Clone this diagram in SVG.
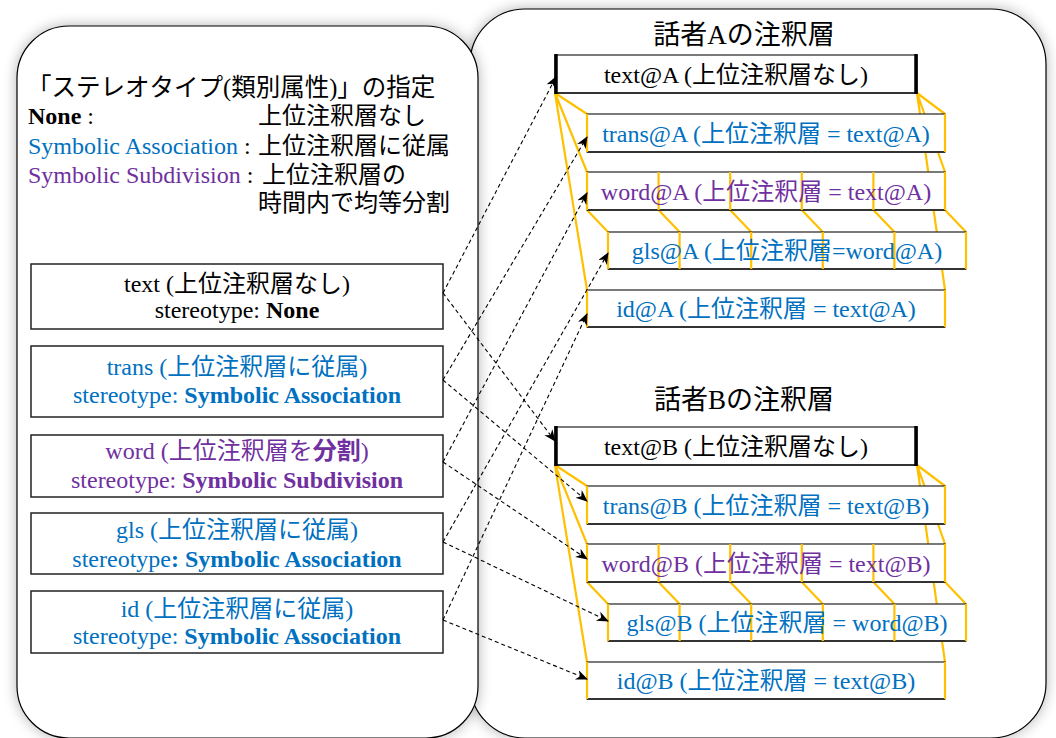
<svg xmlns="http://www.w3.org/2000/svg" xmlns:xlink="http://www.w3.org/1999/xlink" width="1056" height="738" viewBox="0 0 1056 738">
<style>
text{font-family:"Liberation Serif","Noto Sans CJK JP",serif;}
.lg{font-size:24px;fill:#000;}
.hd{font-size:24.5px;fill:#000;}
.tt{font-size:27px;fill:#000;text-anchor:middle;}
.bt{font-size:24px;text-anchor:middle;}
.blk{fill:#000;}
.blu{fill:#0070C0;}
.pur{fill:#7030A0;}
.b{font-weight:bold;}
.panel{fill:#fff;stroke:#000;stroke-width:1.2;}
.lbox{fill:#fff;stroke:#222;stroke-width:1.5;}
.rbox{fill:#fff;stroke:#222;stroke-width:1.2;}
.bot{stroke:#333;stroke-width:2;}
.yl{stroke:#FFC000;stroke-width:2.2;fill:none;}
.side{stroke:#000;stroke-width:3.5;}
.dash{stroke:#000;stroke-width:1.1;stroke-dasharray:4 3;fill:none;marker-end:url(#arr);}
</style>
<defs>
<filter id="sh" x="-10%" y="-10%" width="120%" height="120%">
<feGaussianBlur in="SourceAlpha" stdDeviation="7"/>
<feComponentTransfer><feFuncA type="linear" slope="0.3"/></feComponentTransfer>
<feMerge><feMergeNode/><feMergeNode in="SourceGraphic"/></feMerge>
</filter>
<marker id="arr" markerUnits="userSpaceOnUse" markerWidth="14" markerHeight="12" refX="11" refY="5" orient="auto">
<path d="M0,0 L12,5 L0,10 L3.5,5 Z" fill="#000"/>
</marker>
<g id="diag" class="yl">
<path d="M555,93 L587,114 M555,93 L587,172 M555,93 L587,290 M917,93 L945,114 M917,93 L945,172 M917,93 L945,290"/>
<path d="M587,210 L608,232 M658.6,210 L679.6,232 M730.2,210 L751.2,232 M801.8,210 L822.8,232 M873.4,210 L894.4,232 M945,210 L966,232"/>
</g>
<g id="vert" class="yl">
<path d="M587,114 V152 M945,114 V152"/>
<path d="M587,172 V210 M658.6,172 V210 M730.2,172 V210 M801.8,172 V210 M873.4,172 V210 M945,172 V210"/>
<path d="M608,232 V269 M679.6,232 V269 M751.2,232 V269 M822.8,232 V269 M894.4,232 V269 M966,232 V269"/>
<path d="M587,290 V327 M945,290 V327"/>
</g>
<g id="boxes">
<rect class="rbox" x="555" y="55" width="362" height="38"/>
<line class="bot" x1="555" y1="93" x2="917" y2="93"/>
<line class="side" x1="556" y1="54" x2="556" y2="94"/>
<line class="side" x1="916" y1="54" x2="916" y2="94"/>
<rect class="rbox" x="587" y="114" width="358" height="38"/>
<line class="bot" x1="587" y1="152" x2="945" y2="152"/>
<rect class="rbox" x="587" y="172" width="358" height="38"/>
<line class="bot" x1="587" y1="210" x2="945" y2="210"/>
<rect class="rbox" x="608" y="232" width="358" height="37"/>
<line class="bot" x1="608" y1="269" x2="966" y2="269"/>
<rect class="rbox" x="587" y="290" width="358" height="37"/>
<line class="bot" x1="587" y1="327" x2="945" y2="327"/>
</g>
</defs>

<g id="panels">
<rect id="right-panel" class="panel" filter="url(#sh)" x="470" y="9" width="576" height="729" rx="55" ry="55"/>
<rect id="left-panel" class="panel" filter="url(#sh)" x="17" y="26" width="461" height="712" rx="52" ry="52"/>
</g>

<g id="legend">
<text class="hd" x="27" y="96">「ステレオタイプ(類別属性)」の指定</text>
<text class="lg" x="28" y="124"><tspan class="b">None</tspan> :</text>
<text class="lg" x="258" y="124">上位注釈層なし</text>
<text class="lg" x="28" y="154"><tspan class="blu">Symbolic Association</tspan> :</text>
<text class="lg" x="258" y="154">上位注釈層に従属</text>
<text class="lg" x="28" y="183"><tspan class="pur">Symbolic Subdivision</tspan> :</text>
<text class="lg" x="262" y="183">上位注釈層の</text>
<text class="lg" x="258" y="211">時間内で均等分割</text>
</g>

<g id="type-text">
<rect class="lbox" x="31" y="264" width="412" height="65"/>
<text class="bt blk" x="237" y="292">text (上位注釈層なし)</text>
<text class="bt blk" x="237" y="318">stereotype: <tspan class="b">None</tspan></text>
</g>
<g id="type-trans">
<rect class="lbox" x="31" y="346" width="412" height="71"/>
<text class="bt blu" x="237" y="375">trans (上位注釈層に従属)</text>
<text class="bt blu" x="237" y="403">stereotype: <tspan class="b">Symbolic Association</tspan></text>
</g>
<g id="type-word">
<rect class="lbox" x="31" y="435" width="412" height="62"/>
<text class="bt pur" x="237" y="459">word (上位注釈層を<tspan class="b">分割</tspan>)</text>
<text class="bt pur" x="237" y="488">stereotype: <tspan class="b">Symbolic Subdivision</tspan></text>
</g>
<g id="type-gls">
<rect class="lbox" x="31" y="513" width="412" height="61"/>
<text class="bt blu" x="237" y="538">gls (上位注釈層に従属)</text>
<text class="bt blu" x="237" y="567">stereotype<tspan class="b">: Symbolic Association</tspan></text>
</g>
<g id="type-id">
<rect class="lbox" x="31" y="591" width="412" height="62"/>
<text class="bt blu" x="237" y="617">id (上位注釈層に従属)</text>
<text class="bt blu" x="237" y="644">stereotype: <tspan class="b">Symbolic Association</tspan></text>
</g>

<g id="speaker-A">
<text class="tt" x="744" y="44">話者Aの注釈層</text>
<use xlink:href="#diag"/>
<use xlink:href="#boxes"/>
<use xlink:href="#vert"/>
<text class="bt blk" x="736" y="83">text@A (上位注釈層なし)</text>
<text class="bt blu" x="766" y="142">trans@A (上位注釈層 = text@A)</text>
<text class="bt pur" x="766" y="200">word@A (上位注釈層 = text@A)</text>
<text class="bt blu" x="787" y="259">gls@A (上位注釈層=word@A)</text>
<text class="bt blu" x="766" y="317">id@A (上位注釈層 = text@A)</text>
</g>

<g id="speaker-B">
<text class="tt" x="744" y="409">話者Bの注釈層</text>
<g transform="translate(0,372)">
<use xlink:href="#diag"/>
<use xlink:href="#boxes"/>
<use xlink:href="#vert"/>
</g>
<text class="bt blk" x="736" y="455">text@B (上位注釈層なし)</text>
<text class="bt blu" x="766" y="514">trans@B (上位注釈層 = text@B)</text>
<text class="bt pur" x="766" y="572">word@B (上位注釈層 = text@B)</text>
<text class="bt blu" x="787" y="631">gls@B (上位注釈層 = word@B)</text>
<text class="bt blu" x="766" y="689">id@B (上位注釈層 = text@B)</text>
</g>

<g id="connectors">
<line class="dash" x1="443" y1="293" x2="556" y2="77"/>
<line class="dash" x1="443" y1="293" x2="555" y2="441"/>
<line class="dash" x1="443" y1="380" x2="587" y2="137"/>
<line class="dash" x1="443" y1="380" x2="587" y2="501"/>
<line class="dash" x1="443" y1="462" x2="587" y2="193"/>
<line class="dash" x1="443" y1="462" x2="587" y2="559"/>
<line class="dash" x1="443" y1="542" x2="608" y2="253"/>
<line class="dash" x1="443" y1="542" x2="608" y2="621"/>
<line class="dash" x1="443" y1="620" x2="587" y2="314"/>
<line class="dash" x1="443" y1="620" x2="587" y2="679"/>
</g>
</svg>
